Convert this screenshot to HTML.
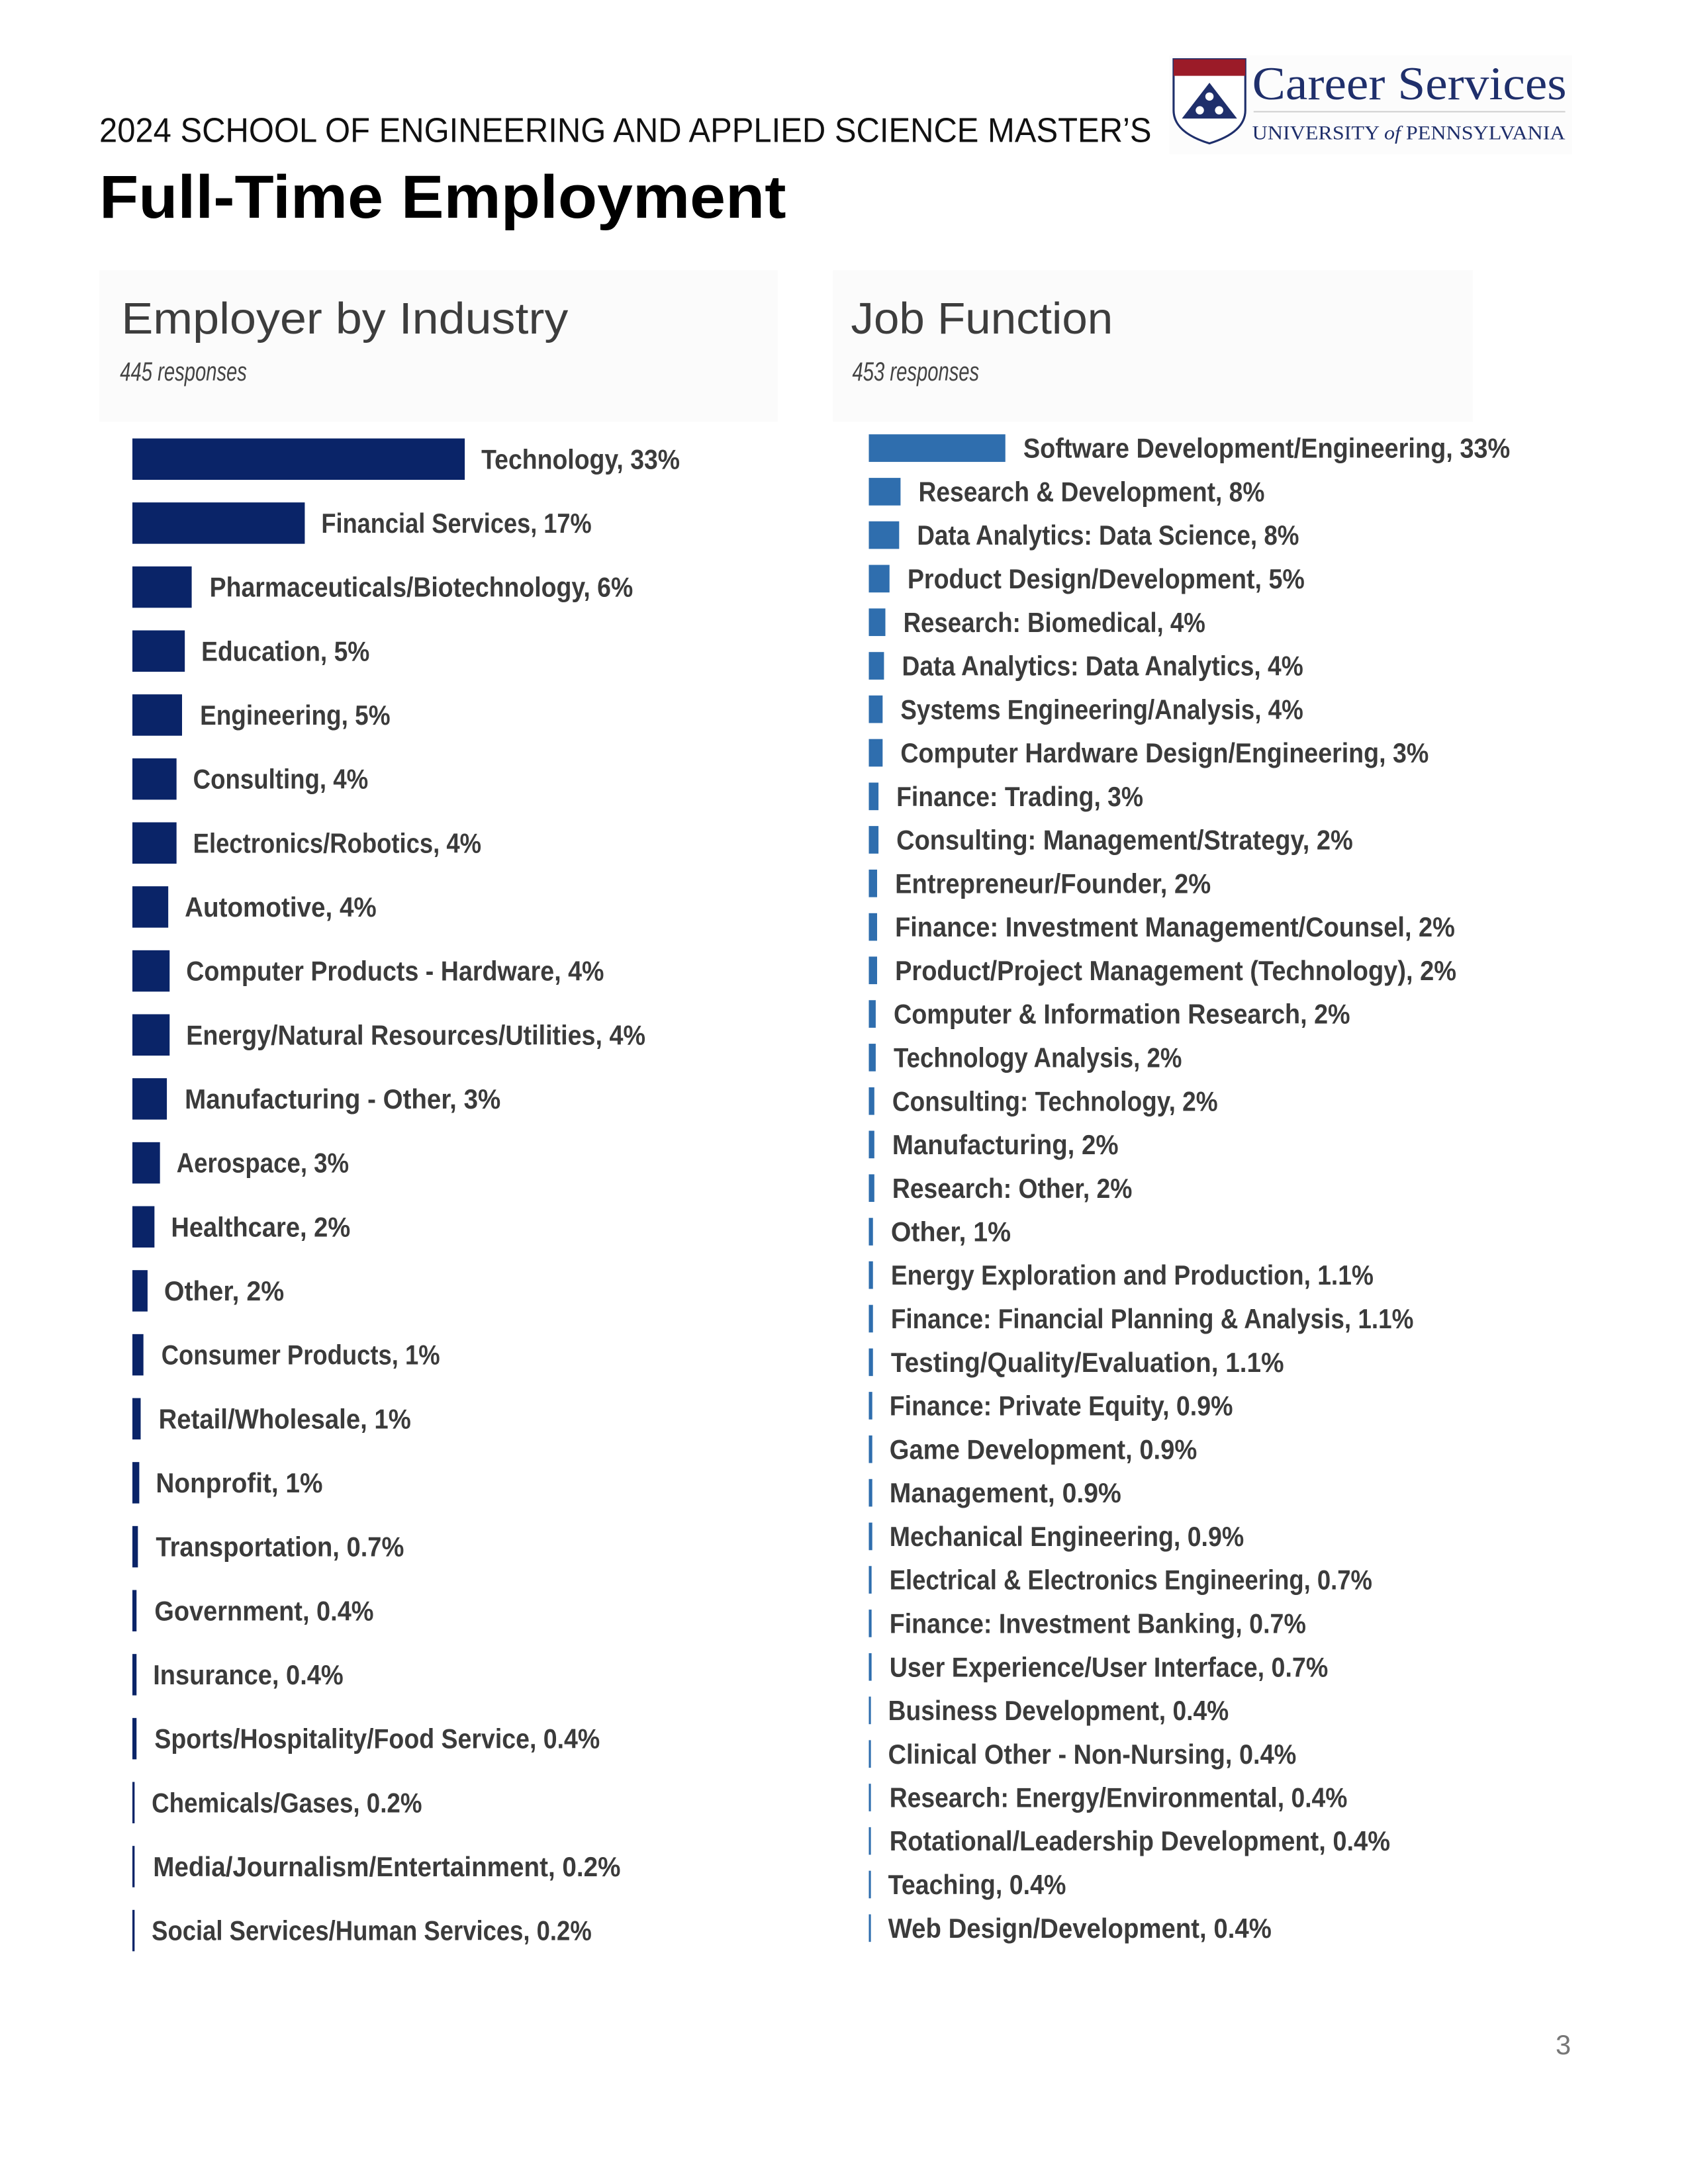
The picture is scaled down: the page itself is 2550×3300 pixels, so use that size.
<!DOCTYPE html>
<html><head><meta charset="utf-8"><style>
html,body{margin:0;padding:0;background:#fff;}
svg{display:block;}
.l{font-family:"Liberation Sans Narrow","Liberation Sans",sans-serif;font-weight:bold;font-size:20px;fill:#3b3b3b;}
</style></head><body>
<svg width="2550" height="3300" viewBox="0 0 1224 1584" xmlns="http://www.w3.org/2000/svg">
<rect width="1224" height="1584" fill="#fff"/>
<!-- logo -->
<rect x="848" y="40" width="292" height="72" fill="#fcfcfc"/>
<path d="M851 43 H903 V80 Q903 96 877 104 Q851 96 851 80 Z" fill="#fff" stroke="#1f2f6b" stroke-width="1.5"/>
<rect x="851" y="43" width="52" height="12" fill="#9b1b28"/>
<path d="M877 60 L897 86 L857 86 Z" fill="#1f2f6b"/>
<circle cx="877" cy="70" r="3" fill="#fff"/><circle cx="870" cy="80" r="3" fill="#fff"/><circle cx="884" cy="80" r="3" fill="#fff"/>
<text x="908" y="72" font-family="Liberation Serif,serif" font-size="34" fill="#1f2f6b" textLength="228" lengthAdjust="spacingAndGlyphs">Career Services</text>
<line x1="909" y1="81" x2="1135" y2="81" stroke="#cfcfcf" stroke-width="1"/>
<text x="908" y="101" font-family="Liberation Serif,serif" font-size="14" fill="#1f2f6b" textLength="227" lengthAdjust="spacingAndGlyphs">UNIVERSITY <tspan font-style="italic">of</tspan> PENNSYLVANIA</text>
<!-- headers -->
<text x="72" y="103" font-family="Liberation Sans,sans-serif" font-size="25" fill="#111" textLength="763" lengthAdjust="spacingAndGlyphs">2024 SCHOOL OF ENGINEERING AND APPLIED SCIENCE MASTER’S</text>
<text x="72" y="158" font-family="Liberation Sans,sans-serif" font-weight="bold" font-size="44" fill="#000" textLength="498" lengthAdjust="spacingAndGlyphs">Full-Time Employment</text>
<rect x="72" y="196" width="492" height="110" fill="#fbfbfb"/>
<rect x="604" y="196" width="464" height="110" fill="#fbfbfb"/>
<text x="88" y="242" font-family="Liberation Sans,sans-serif" font-size="32" fill="#3d3d3d" textLength="324" lengthAdjust="spacingAndGlyphs">Employer by Industry</text>
<text x="617" y="242" font-family="Liberation Sans,sans-serif" font-size="32" fill="#3d3d3d" textLength="190" lengthAdjust="spacingAndGlyphs">Job Function</text>
<text x="87" y="276" font-family="Liberation Sans Narrow,Liberation Sans,sans-serif" font-style="italic" font-size="19" fill="#444" textLength="92" lengthAdjust="spacingAndGlyphs">445 responses</text>
<text x="618" y="276" font-family="Liberation Sans Narrow,Liberation Sans,sans-serif" font-style="italic" font-size="19" fill="#444" textLength="92" lengthAdjust="spacingAndGlyphs">453 responses</text>
<!-- left chart -->
<g fill="#0a2468">
<rect x="96" y="318" width="241" height="30"/>
<rect x="96" y="364.4" width="125" height="30"/>
<rect x="96" y="410.8" width="43" height="30"/>
<rect x="96" y="457.2" width="38" height="30"/>
<rect x="96" y="503.6" width="36" height="30"/>
<rect x="96" y="550" width="32" height="30"/>
<rect x="96" y="596.4" width="32" height="30"/>
<rect x="96" y="642.8" width="26" height="30"/>
<rect x="96" y="689.2" width="27" height="30"/>
<rect x="96" y="735.6" width="27" height="30"/>
<rect x="96" y="782" width="25" height="30"/>
<rect x="96" y="828.4" width="20" height="30"/>
<rect x="96" y="874.8" width="16" height="30"/>
<rect x="96" y="921.2" width="11" height="30"/>
<rect x="96" y="967.6" width="8" height="30"/>
<rect x="96" y="1014" width="6" height="30"/>
<rect x="96" y="1060.4" width="5" height="30"/>
<rect x="96" y="1106.8" width="4" height="30"/>
<rect x="96" y="1153.2" width="3" height="30"/>
<rect x="96" y="1199.6" width="3" height="30"/>
<rect x="96" y="1246" width="3" height="30"/>
<rect x="96" y="1292.4" width="1.6" height="30"/>
<rect x="96" y="1338.8" width="1.6" height="30"/>
<rect x="96" y="1385.2" width="1.6" height="30"/>
</g>
<g class="l">
<text x="349" y="340" textLength="144" lengthAdjust="spacingAndGlyphs">Technology, 33%</text>
<text x="233" y="386.4" textLength="196" lengthAdjust="spacingAndGlyphs">Financial Services, 17%</text>
<text x="152" y="432.8" textLength="307" lengthAdjust="spacingAndGlyphs">Pharmaceuticals/Biotechnology, 6%</text>
<text x="146" y="479.2" textLength="122" lengthAdjust="spacingAndGlyphs">Education, 5%</text>
<text x="145" y="525.6" textLength="138" lengthAdjust="spacingAndGlyphs">Engineering, 5%</text>
<text x="140" y="572" textLength="127" lengthAdjust="spacingAndGlyphs">Consulting, 4%</text>
<text x="140" y="618.4" textLength="209" lengthAdjust="spacingAndGlyphs">Electronics/Robotics, 4%</text>
<text x="134" y="664.8" textLength="139" lengthAdjust="spacingAndGlyphs">Automotive, 4%</text>
<text x="135" y="711.2" textLength="303" lengthAdjust="spacingAndGlyphs">Computer Products - Hardware, 4%</text>
<text x="135" y="757.6" textLength="333" lengthAdjust="spacingAndGlyphs">Energy/Natural Resources/Utilities, 4%</text>
<text x="134" y="804" textLength="229" lengthAdjust="spacingAndGlyphs">Manufacturing - Other, 3%</text>
<text x="128" y="850.4" textLength="125" lengthAdjust="spacingAndGlyphs">Aerospace, 3%</text>
<text x="124" y="896.8" textLength="130" lengthAdjust="spacingAndGlyphs">Healthcare, 2%</text>
<text x="119" y="943.2" textLength="87" lengthAdjust="spacingAndGlyphs">Other, 2%</text>
<text x="117" y="989.6" textLength="202" lengthAdjust="spacingAndGlyphs">Consumer Products, 1%</text>
<text x="115" y="1036" textLength="183" lengthAdjust="spacingAndGlyphs">Retail/Wholesale, 1%</text>
<text x="113" y="1082.4" textLength="121" lengthAdjust="spacingAndGlyphs">Nonprofit, 1%</text>
<text x="113" y="1128.8" textLength="180" lengthAdjust="spacingAndGlyphs">Transportation, 0.7%</text>
<text x="112" y="1175.2" textLength="159" lengthAdjust="spacingAndGlyphs">Government, 0.4%</text>
<text x="111" y="1221.6" textLength="138" lengthAdjust="spacingAndGlyphs">Insurance, 0.4%</text>
<text x="112" y="1268" textLength="323" lengthAdjust="spacingAndGlyphs">Sports/Hospitality/Food Service, 0.4%</text>
<text x="110" y="1314.4" textLength="196" lengthAdjust="spacingAndGlyphs">Chemicals/Gases, 0.2%</text>
<text x="111" y="1360.8" textLength="339" lengthAdjust="spacingAndGlyphs">Media/Journalism/Entertainment, 0.2%</text>
<text x="110" y="1407.2" textLength="319" lengthAdjust="spacingAndGlyphs">Social Services/Human Services, 0.2%</text>
</g>
<!-- right chart -->
<g fill="#2f6eae">
<rect x="630" y="315" width="99" height="20"/>
<rect x="630" y="346.6" width="23" height="20"/>
<rect x="630" y="378.1" width="22" height="20"/>
<rect x="630" y="409.7" width="15" height="20"/>
<rect x="630" y="441.3" width="12" height="20"/>
<rect x="630" y="472.9" width="11" height="20"/>
<rect x="630" y="504.4" width="10" height="20"/>
<rect x="630" y="536" width="10" height="20"/>
<rect x="630" y="567.6" width="7" height="20"/>
<rect x="630" y="599.1" width="7" height="20"/>
<rect x="630" y="630.7" width="6" height="20"/>
<rect x="630" y="662.3" width="6" height="20"/>
<rect x="630" y="693.8" width="6" height="20"/>
<rect x="630" y="725.4" width="5" height="20"/>
<rect x="630" y="757" width="5" height="20"/>
<rect x="630" y="788.6" width="4" height="20"/>
<rect x="630" y="820.1" width="4" height="20"/>
<rect x="630" y="851.7" width="4" height="20"/>
<rect x="630" y="883.3" width="3" height="20"/>
<rect x="630" y="914.8" width="3" height="20"/>
<rect x="630" y="946.4" width="3" height="20"/>
<rect x="630" y="978" width="3" height="20"/>
<rect x="630" y="1009.5" width="2.5" height="20"/>
<rect x="630" y="1041.1" width="2.5" height="20"/>
<rect x="630" y="1072.7" width="2.5" height="20"/>
<rect x="630" y="1104.3" width="2.5" height="20"/>
<rect x="630" y="1135.8" width="2" height="20"/>
<rect x="630" y="1167.4" width="2" height="20"/>
<rect x="630" y="1199" width="2" height="20"/>
<rect x="630" y="1230.5" width="1.5" height="20"/>
<rect x="630" y="1262.1" width="1.5" height="20"/>
<rect x="630" y="1293.7" width="1.5" height="20"/>
<rect x="630" y="1325.2" width="1.5" height="20"/>
<rect x="630" y="1356.8" width="1.5" height="20"/>
<rect x="630" y="1388.4" width="1.5" height="20"/>
</g>
<g class="l">
<text x="742" y="332" textLength="353" lengthAdjust="spacingAndGlyphs">Software Development/Engineering, 33%</text>
<text x="666" y="363.6" textLength="251" lengthAdjust="spacingAndGlyphs">Research &amp; Development, 8%</text>
<text x="665" y="395.1" textLength="277" lengthAdjust="spacingAndGlyphs">Data Analytics: Data Science, 8%</text>
<text x="658" y="426.7" textLength="288" lengthAdjust="spacingAndGlyphs">Product Design/Development, 5%</text>
<text x="655" y="458.3" textLength="219" lengthAdjust="spacingAndGlyphs">Research: Biomedical, 4%</text>
<text x="654" y="489.9" textLength="291" lengthAdjust="spacingAndGlyphs">Data Analytics: Data Analytics, 4%</text>
<text x="653" y="521.4" textLength="292" lengthAdjust="spacingAndGlyphs">Systems Engineering/Analysis, 4%</text>
<text x="653" y="553" textLength="383" lengthAdjust="spacingAndGlyphs">Computer Hardware Design/Engineering, 3%</text>
<text x="650" y="584.6" textLength="179" lengthAdjust="spacingAndGlyphs">Finance: Trading, 3%</text>
<text x="650" y="616.1" textLength="331" lengthAdjust="spacingAndGlyphs">Consulting: Management/Strategy, 2%</text>
<text x="649" y="647.7" textLength="229" lengthAdjust="spacingAndGlyphs">Entrepreneur/Founder, 2%</text>
<text x="649" y="679.3" textLength="406" lengthAdjust="spacingAndGlyphs">Finance: Investment Management/Counsel, 2%</text>
<text x="649" y="710.8" textLength="407" lengthAdjust="spacingAndGlyphs">Product/Project Management (Technology), 2%</text>
<text x="648" y="742.4" textLength="331" lengthAdjust="spacingAndGlyphs">Computer &amp; Information Research, 2%</text>
<text x="648" y="774" textLength="209" lengthAdjust="spacingAndGlyphs">Technology Analysis, 2%</text>
<text x="647" y="805.6" textLength="236" lengthAdjust="spacingAndGlyphs">Consulting: Technology, 2%</text>
<text x="647" y="837.1" textLength="164" lengthAdjust="spacingAndGlyphs">Manufacturing, 2%</text>
<text x="647" y="868.7" textLength="174" lengthAdjust="spacingAndGlyphs">Research: Other, 2%</text>
<text x="646" y="900.3" textLength="87" lengthAdjust="spacingAndGlyphs">Other, 1%</text>
<text x="646" y="931.8" textLength="350" lengthAdjust="spacingAndGlyphs">Energy Exploration and Production, 1.1%</text>
<text x="646" y="963.4" textLength="379" lengthAdjust="spacingAndGlyphs">Finance: Financial Planning &amp; Analysis, 1.1%</text>
<text x="646" y="995" textLength="285" lengthAdjust="spacingAndGlyphs">Testing/Quality/Evaluation, 1.1%</text>
<text x="645" y="1026.5" textLength="249" lengthAdjust="spacingAndGlyphs">Finance: Private Equity, 0.9%</text>
<text x="645" y="1058.1" textLength="223" lengthAdjust="spacingAndGlyphs">Game Development, 0.9%</text>
<text x="645" y="1089.7" textLength="168" lengthAdjust="spacingAndGlyphs">Management, 0.9%</text>
<text x="645" y="1121.3" textLength="257" lengthAdjust="spacingAndGlyphs">Mechanical Engineering, 0.9%</text>
<text x="645" y="1152.8" textLength="350" lengthAdjust="spacingAndGlyphs">Electrical &amp; Electronics Engineering, 0.7%</text>
<text x="645" y="1184.4" textLength="302" lengthAdjust="spacingAndGlyphs">Finance: Investment Banking, 0.7%</text>
<text x="645" y="1216" textLength="318" lengthAdjust="spacingAndGlyphs">User Experience/User Interface, 0.7%</text>
<text x="644" y="1247.5" textLength="247" lengthAdjust="spacingAndGlyphs">Business Development, 0.4%</text>
<text x="644" y="1279.1" textLength="296" lengthAdjust="spacingAndGlyphs">Clinical Other - Non-Nursing, 0.4%</text>
<text x="645" y="1310.7" textLength="332" lengthAdjust="spacingAndGlyphs">Research: Energy/Environmental, 0.4%</text>
<text x="645" y="1342.2" textLength="363" lengthAdjust="spacingAndGlyphs">Rotational/Leadership Development, 0.4%</text>
<text x="644" y="1373.8" textLength="129" lengthAdjust="spacingAndGlyphs">Teaching, 0.4%</text>
<text x="644" y="1405.4" textLength="278" lengthAdjust="spacingAndGlyphs">Web Design/Development, 0.4%</text>
</g>
<text x="1128" y="1490" font-family="Liberation Sans,sans-serif" font-size="20" fill="#777">3</text>
</svg>
</body></html>
